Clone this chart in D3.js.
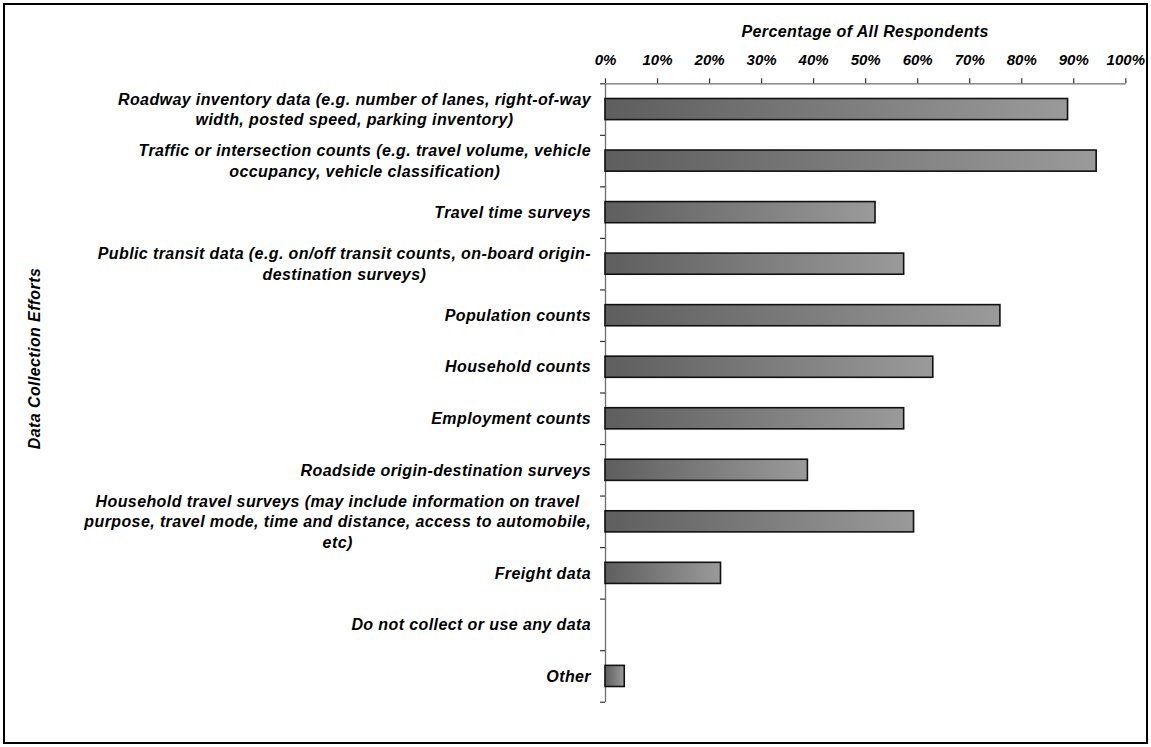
<!DOCTYPE html>
<html>
<head>
<meta charset="utf-8">
<script src="https://cdn.jsdelivr.net/npm/d3@7/dist/d3.min.js"></script>
<style>
  html, body { margin: 0; padding: 0; background: #fff; }
  svg { display: block; }
  text { font-family: "Liberation Sans", Arial, sans-serif; font-weight: bold; font-style: italic; fill: #000; }
</style>
</head>
<body>
<svg id="chart" width="1151" height="747"></svg>
<script>
// Survey: data collection efforts, share of all respondents (%)
const categories = [
  "Roadway inventory data (e.g. number of lanes, right-of-way\nwidth, posted speed, parking inventory)",
  "Traffic or intersection counts (e.g. travel volume, vehicle\noccupancy, vehicle classification)",
  "Travel time surveys",
  "Public transit data (e.g. on/off transit counts, on-board origin-\ndestination surveys)",
  "Population counts",
  "Household counts",
  "Employment counts",
  "Roadside origin-destination surveys",
  "Household travel surveys (may include information on travel\npurpose, travel mode, time and distance, access to automobile,\netc)",
  "Freight data",
  "Do not collect or use any data",
  "Other"
];
const values = [88.9, 94.4, 51.9, 57.4, 75.9, 63.0, 57.4, 38.9, 59.3, 22.2, 0, 3.7];
const tickValues = [0, 10, 20, 30, 40, 50, 60, 70, 80, 90, 100];
const xTitle = "Percentage of All Respondents";
const yTitle = "Data Collection Efforts";

const svg = d3.select("#chart");
const plot = { left: 605, right: 1125.3, top: 83.3, bottom: 701.7 };
const fontSize = 16;
const tickFontSize = 15;
const spacing = 0.4;
const lineHeight = 20.5;
const labelRight = 591;

// outer frame
svg.append("rect")
  .attr("x", 4).attr("y", 4)
  .attr("width", 1143).attr("height", 739)
  .attr("fill", "none").attr("stroke", "#000").attr("stroke-width", 2);

// bar fill: dark on the left fading lighter to the right
const defs = svg.append("defs");
const grad = defs.append("linearGradient")
  .attr("id", "barFill")
  .attr("x1", "0%").attr("y1", "0%").attr("x2", "100%").attr("y2", "0%");
grad.append("stop").attr("offset", "0%").attr("stop-color", "#5e5e5e");
grad.append("stop").attr("offset", "100%").attr("stop-color", "#9a9a9a");

const x = d3.scaleLinear().domain([0, 100]).range([plot.left, plot.right]);
const y = d3.scaleBand()
  .domain(categories)
  .range([plot.top, plot.bottom])
  .paddingInner(0.59)
  .paddingOuter(0.295);

// category boundary ticks on the vertical axis
const yEdges = d3.scaleLinear().domain([0, categories.length]).range([plot.top, plot.bottom]);
const yAxis = svg.append("g")
  .attr("transform", `translate(${plot.left},0)`)
  .call(d3.axisLeft(yEdges)
    .tickValues(d3.range(0, categories.length + 1))
    .tickSize(5)
    .tickSizeOuter(0)
    .tickFormat(""));
yAxis.select(".domain").attr("stroke", "#6e6e6e").attr("stroke-width", 1.3);
yAxis.selectAll(".tick line").attr("stroke", "#333").attr("stroke-width", 1.2);

// bars
const data = categories.map((c, i) => ({ category: c, value: values[i] }));
svg.append("g")
  .selectAll("rect")
  .data(data.filter(d => d.value > 0))
  .join("rect")
  .attr("x", x(0))
  .attr("y", d => y(d.category))
  .attr("width", d => x(d.value) - x(0))
  .attr("height", y.bandwidth())
  .attr("fill", "url(#barFill)")
  .attr("stroke", "#111")
  .attr("stroke-width", 1.6);

// percentage axis across the top
const xAxis = svg.append("g")
  .attr("transform", `translate(0,${plot.top})`)
  .call(d3.axisTop(x)
    .tickValues(tickValues)
    .tickSize(5)
    .tickSizeOuter(0)
    .tickPadding(13)
    .tickFormat(d => d + "%"));
xAxis.select(".domain").attr("stroke", "#6e6e6e").attr("stroke-width", 1.3);
xAxis.selectAll(".tick line").attr("stroke", "#333").attr("stroke-width", 1.2);
xAxis.selectAll(".tick text")
  .attr("font-size", tickFontSize)
  .style("font-family", "'Liberation Sans', Arial, sans-serif")
  .style("font-weight", "bold").style("font-style", "italic")
  .attr("fill", "#000");

// axis titles
svg.append("text")
  .attr("x", (plot.left + plot.right) / 2)
  .attr("y", 37)
  .attr("text-anchor", "middle")
  .attr("font-size", fontSize)
  .attr("letter-spacing", spacing)
  .text(xTitle);

svg.append("text")
  .attr("transform", `translate(40,${(plot.top + plot.bottom) / 2 - 34}) rotate(-90)`)
  .attr("text-anchor", "middle")
  .attr("font-size", fontSize)
  .attr("letter-spacing", spacing)
  .text(yTitle);

// category labels: each block right-aligned, lines centred within the block
const labels = svg.append("g");
data.forEach(d => {
  const lines = d.category.split("\n");
  const g = labels.append("g");
  const cy = y(d.category) + y.bandwidth() / 2;
  const texts = lines.map((line, j) =>
    g.append("text")
      .attr("font-size", fontSize)
      .attr("letter-spacing", spacing)
      .attr("y", cy + (j - (lines.length - 1) / 2) * lineHeight + fontSize * 0.36)
      .attr("text-anchor", "middle")
      .text(line));
  const maxW = d3.max(texts, t => t.node().getComputedTextLength());
  texts.forEach(t => t.attr("x", labelRight - maxW / 2));
});
</script>
</body>
</html>
